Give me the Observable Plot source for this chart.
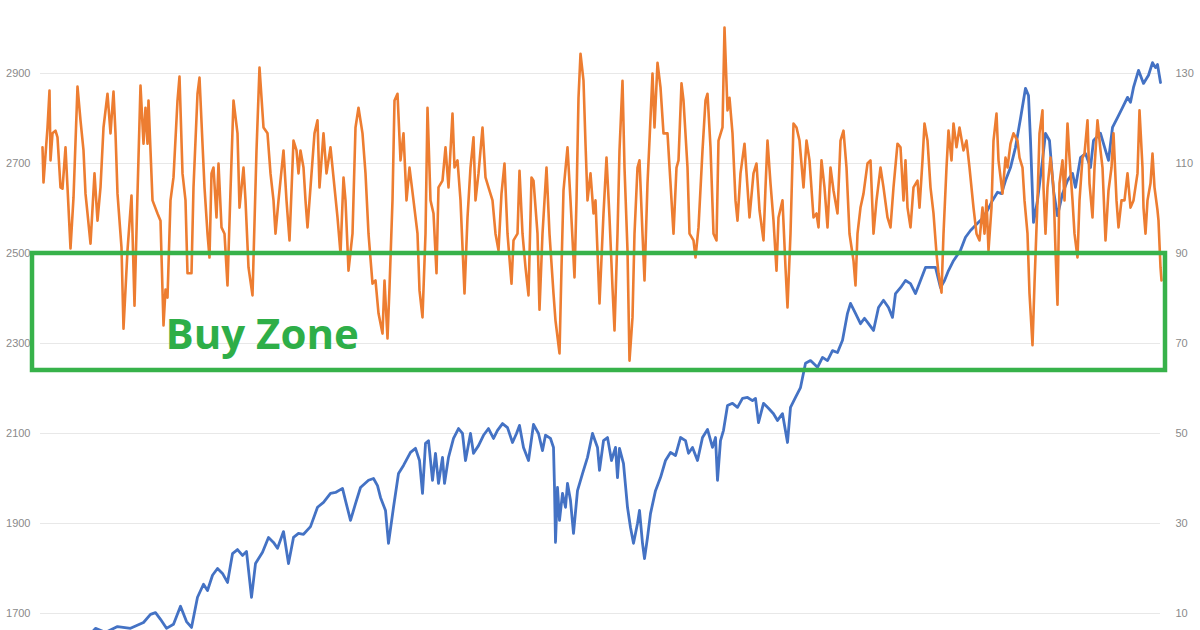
<!DOCTYPE html>
<html><head><meta charset="utf-8">
<script src="https://cdn.jsdelivr.net/npm/d3@7"></script>
<script src="https://cdn.jsdelivr.net/npm/@observablehq/plot@0.6"></script>
<style>html,body{margin:0;padding:0;background:#fff;overflow:hidden}</style>
</head><body><div id="chart"></div>
<script>
// Left axis (index level) and right axis (oscillator) tick values
const leftTicks = [1700, 1900, 2100, 2300, 2500, 2700, 2900];
const rightTicks = [10, 30, 50, 70, 90, 110, 130];

// Blue series: index level by session
const blueDay = [40,55,65,77,90,103,110,115,120,126,133,140,146,151,157,163,167,172,177,182,187,192,197,202,206,211,215,222,228,233,237,243,248,253,258,263,270,277,283,290,295,302,305,310,315,320,328,333,337,340,345,348,353,358,363,370,375,379,382,385,388,392,395,398,402,404,408,413,418,422,425,430,433,438,443,448,453,457,462,467,472,476,479,483,488,493,498,502,505,510,513,514,515,517,519,522,525,527,530,533,537,542,547,552,557,559,563,567,571,575,577,579,583,587,590,593,597,599,602,604,607,610,615,620,625,630,635,640,645,648,652,657,662,667,672,675,677,680,683,687,692,697,702,707,712,715,718,723,728,733,737,742,747,750,755,760,765,770,777,782,787,792,797,802,807,810,815,820,824,828,833,838,843,848,852,855,860,865,870,875,880,885,890,895,900,904,908,913,920,925,930,937,942,947,952,957,961,965,970,975,980,985,988,990,993,997,1002,1005,1009,1013,1017,1022,1027,1032,1035,1040,1045,1050,1053,1060,1065,1068,1072,1077,1082,1087,1090,1093,1098,1103,1108,1112,1115,1117,1120];
const blueValue = [1629,1667,1658,1671,1667,1680,1698,1702,1687,1667,1676,1716,1682,1669,1736,1765,1751,1785,1800,1789,1769,1833,1842,1829,1838,1736,1811,1836,1869,1858,1845,1882,1811,1869,1878,1876,1893,1936,1947,1967,1969,1978,1951,1907,1944,1980,1996,2000,1984,1958,1929,1856,1936,2011,2029,2058,2067,2040,1967,2078,2084,1996,2056,1989,2047,1989,2047,2089,2111,2100,2040,2100,2056,2073,2096,2111,2089,2107,2122,2113,2080,2100,2118,2069,2040,2120,2100,2062,2096,2089,2069,1980,1858,1980,1907,1967,1936,1989,1951,1878,1973,2011,2047,2100,2069,2018,2084,2091,2040,2069,2002,2067,2033,1936,1891,1856,1900,1929,1856,1822,1869,1922,1973,2002,2040,2058,2051,2091,2084,2056,2069,2040,2091,2109,2069,2091,1996,2084,2107,2162,2167,2158,2178,2180,2173,2178,2124,2167,2156,2144,2129,2144,2080,2158,2180,2202,2256,2262,2247,2269,2262,2284,2280,2307,2367,2389,2367,2344,2356,2344,2329,2380,2396,2380,2358,2411,2424,2440,2433,2411,2440,2469,2469,2469,2424,2440,2462,2484,2507,2536,2551,2567,2578,2596,2618,2636,2633,2662,2691,2736,2800,2867,2851,2751,2569,2618,2707,2767,2751,2640,2584,2633,2662,2678,2647,2713,2722,2691,2751,2767,2729,2707,2780,2802,2824,2847,2836,2869,2907,2878,2896,2924,2913,2920,2880];

// Orange series: oscillator (right axis) by session
const orangeDay = [2,3,7,9,10,12,15,17,20,22,25,27,30,33,37,40,43,45,47,50,54,57,60,63,67,70,73,75,77,81,83,87,91,94,97,100,103,105,107,108,112,117,120,123,125,127,130,133,137,139,142,145,147,151,153,157,159,162,164,167,169,171,173,176,178,181,184,187,190,193,197,199,203,205,208,212,216,219,223,227,230,233,235,238,243,246,249,253,256,258,
260,263,265,267,270,274,277,279,283,286,290,293,297,300,303,305,308,312,315,318,322,325,328,332,335,338,342,344,347,349,352,354,357,360,363,366,369,373,377,379,382,385,387,390,393,396,398,402,405,408,412,414,417,420,424,427,430,433,435,438,442,445,448,452,455,458,461,464,467,471,473,477,479,482,485,488,491,493,497,499,502,506,509,513,515,519,521,523,527,530,534,536,538,540,543,545,547,550,553,555,559,
563,566,569,572,574,577,579,582,584,587,589,592,594,597,599,602,604,607,609,612,614,617,620,623,627,630,633,636,638,641,643,647,649,653,655,658,662,665,667,670,673,676,678,682,684,687,689,692,695,697,700,704,707,709,713,716,719,723,725,727,730,733,736,738,742,745,747,750,753,756,759,763,766,769,773,776,778,781,784,787,790,793,797,800,803,806,809,813,815,817,820,823,827,830,833,836,840,843,847,850,853,857,860,
863,865,867,870,873,877,879,882,884,887,890,893,896,898,901,903,906,908,911,913,916,919,923,926,929,933,936,939,942,944,946,948,951,953,956,958,962,965,967,970,973,977,979,982,984,987,989,992,994,997,999,1002,1003,1005,1007,1010,1013,1015,1017,1019,1022,1024,1027,1029,1032,1034,1037,1039,1042,1044,1047,1049,1052,1054,1057,1060,1062,1065,1068,1071,1073,1076,1078,1081,1084,1087,1090,1093,1097,1099,1102,1103,1105,1107,1110,1112,1114,1117,1118,1120,1121];
const orangeValue = [113.6,105.8,118,126.2,110.7,116.7,117.3,115.8,104.7,104.4,113.6,104.7,91.1,102.4,127.1,119.6,112.9,103.3,98.9,92.2,107.8,97.3,104.7,118,125.5,116.7,126,116.7,103.3,91.3,73.3,90.7,102.9,78.4,103.3,127.3,114.4,122.4,114.4,124,101.8,98.9,97.3,74,82,80.2,101.8,106.9,124,129.3,107.8,101.8,85.6,85.6,104.7,125.5,129.1,114.4,104.7,94.4,89.1,107.8,109.1,98,110,95.8,94.4,82.9,104,124,116.7,100.2,109.1,101.8,86.9,80.7,112.9,131.3,118,116.7,107.8,101.8,94.4,101.8,112.9,101.8,92.9,115.1,112.9,107.8,
112.9,109.1,101.8,95.8,104.7,116.7,119.6,104.7,116.7,107.8,113.6,106.9,98,90,106.9,101.8,86.2,94.4,118,122.4,116.7,107.8,94.4,83.3,84,76.7,72.2,84,71.1,82.4,101.8,124,125.5,110.7,116.7,101.8,109.1,101.8,94.4,81.8,75.8,94.4,122.4,101.8,98.9,85.6,104.7,106.2,113.6,104.7,121.1,109.1,110.7,101.8,81.1,98,109.1,115.8,101.8,107.8,118,106.9,104.7,101.8,94.4,90.7,103.3,110,94.4,83.3,92.9,94.4,108.4,94.4,86.9,80.7,106.9,106.2,94.4,77.5,94.4,109.1,94.4,81.1,75.1,67.8,86.9,104,113.6,101.8,84.7,101.8,124.6,134.4,128.4,114.4,101.8,107.8,98.9,101.8,78.9,
98.9,111.3,98,82.4,72.9,94.4,112.9,128.4,109.1,90.7,66.2,75.8,94.4,109.1,110.7,94.4,84,105.6,115.1,130,118,132.4,126.9,116.7,116.7,105.6,94.4,109.1,110.7,127.8,124,109.1,94.4,92.9,89.1,95.8,112.9,124,125.5,113.6,94.4,92.9,115.1,118,140.2,121.8,124.6,116.7,101.8,97.3,107.8,114.4,104.7,98,107.8,110,99.6,92.9,104.7,115.1,105.6,97.3,86.2,98,101.8,86.9,78,94.4,118.9,118,115.1,104.7,115.1,110.7,98,98.9,95.8,110.7,104.7,95.8,109.1,104,98.9,115.1,117.3,109.1,94.4,88.4,82.9,94.4,100.2,103.3,110,110.7,94.4,101.8,109.1,104.7,98,95.8,104.7,114.4,113.6,
101.8,110.7,100.2,95.8,104.7,106.2,100.2,110.7,118.9,115.1,104.7,98.9,90,85.6,81.3,94.4,109.1,117.3,110.7,118.9,113.6,118,112.9,115.1,109.1,100.2,94.4,92.9,100.2,94.4,101.8,90.7,100.2,115.1,121.1,110.7,103.3,111.3,109.1,114.4,116.7,115.1,111.3,109.1,101.8,94.4,81.1,69.6,83.3,101.8,116.7,121.8,104.7,94.4,104.7,111.3,104.7,90.7,78.6,105.6,110.7,101.8,118.9,111.3,101.8,94.4,89.1,101.8,111.3,112.2,119.6,105.6,98,109.1,119.6,112.9,109.1,92.9,104,109.1,116.7,101.8,95.8,101.8,101.8,107.8,100.2,101.8,107.8,121.8,109.1,100.2,94.4,101.8,105.6,112.2,104.7,99.6,97.3,86.9,84];

// Buy zone band (left-axis units) and label
const zoneDays = [-8, 1125];
const zoneLevels = [2240, 2500];
const zoneLabel = [{text: "Buy Zone", day: 125, level: 2287}];

const toLeft = v => leftTicks[0] + (v - rightTicks[0]) * (leftTicks[1] - leftTicks[0]) / (rightTicks[1] - rightTicks[0]);
const blue = blueDay.map((d, i) => ({day: d, level: blueValue[i]}));
const orange = orangeDay.map((d, i) => ({day: d, level: toLeft(orangeValue[i])}));
const zone = [{x1: zoneDays[0], x2: zoneDays[1], y1: zoneLevels[0], y2: zoneLevels[1]}];

const chart = Plot.plot({
  width: 1200,
  height: 630,
  marginTop: 0,
  marginBottom: 0,
  marginLeft: 32,
  marginRight: 35,
  style: {fontFamily: "Liberation Sans, Arial, sans-serif", fontSize: "11px", background: "#fff"},
  x: {domain: [zoneDays[0], zoneDays[1]], axis: null},
  y: {domain: [1662.2, 3062.2], axis: null},
  marks: [
    Plot.ruleY(leftTicks, {x1: 0, x2: 1120, stroke: "#e8e8e8", strokeWidth: 1.2}),
    Plot.axisY({anchor: "left", ticks: leftTicks, tickSize: 0, tickPadding: 2, label: null, color: "#8a8a8a", fontSize: 11,
      tickFormat: d => String(d)}),
    Plot.axisY({anchor: "right", ticks: leftTicks, tickSize: 0, tickPadding: 10, label: null, color: "#8a8a8a", fontSize: 11,
      tickFormat: d => String(rightTicks[leftTicks.indexOf(d)])}),
    Plot.line(blue, {x: "day", y: "level", stroke: "#4472C4", strokeWidth: 2.8, clip: true}),
    Plot.line(orange, {x: "day", y: "level", stroke: "#ED7D31", strokeWidth: 2.6, clip: true}),
    Plot.rect(zone, {x1: "x1", x2: "x2", y1: "y1", y2: "y2", fill: "none", stroke: "#37b24a", strokeWidth: 4.5}),
    Plot.text(zoneLabel, {x: "day", y: "level", text: "text", textAnchor: "start", lineAnchor: "bottom",
      fill: "#2eae48", fontSize: 42, fontWeight: "bold", fontFamily: "Open Sans, sans-serif"})
  ]
});
document.getElementById("chart").appendChild(chart);
</script>
</body></html>
